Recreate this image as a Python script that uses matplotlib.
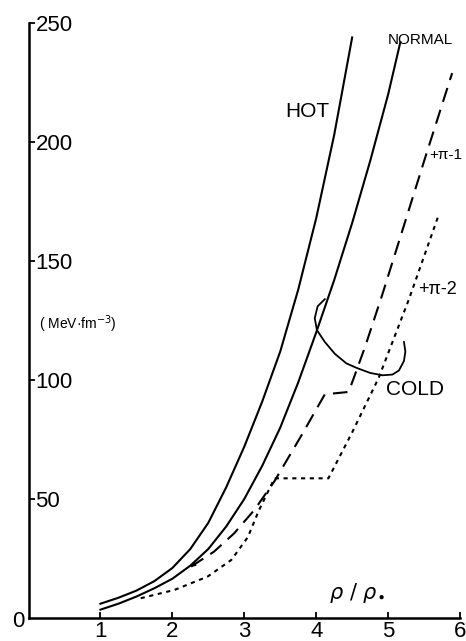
import matplotlib
matplotlib.use('Agg')
from matplotlib import pyplot as plt

plt.rcParams['font.family'] = ['Liberation Sans', 'DejaVu Sans']

# values (x = rho/rho0, y = MeV fm^-3)
hot_x = [1.0, 1.25, 1.5, 1.75, 2.0, 2.25, 2.5, 2.75, 3.0, 3.25, 3.5, 3.75, 4.0, 4.25, 4.5]
hot_y = [6, 8.5, 11.5, 15.5, 21, 29, 40, 55, 72, 91, 112, 138, 168, 203, 244]

normal_x = [1.0, 1.25, 1.5, 1.75, 2.0, 2.25, 2.5, 2.75, 3.0, 3.25, 3.5, 3.75, 4.0, 4.25, 4.5, 4.75, 5.0, 5.17]
normal_y = [3.5, 6, 9, 12.5, 16.5, 22, 29, 38.5, 50, 64, 80, 99, 120, 142, 166, 192, 220, 242]

pi1_x = [2.26, 2.58, 2.86, 3.14, 3.42, 3.8, 4.12, 4.45, 4.5, 4.68, 4.92, 5.2, 5.5, 5.89]
pi1_y = [21.6, 27.9, 35.6, 45.4, 57.5, 77, 94, 95, 99, 114, 136, 163, 192, 229]

pi2_x = [1.56, 2.03, 2.49, 2.82, 3.05, 3.2, 3.42, 4.17, 4.5, 4.87, 5.29, 5.71]
pi2_y = [8.3, 11.8, 17.4, 24.4, 34, 45, 58.7, 58.7, 78, 101, 134, 170]

cold_x = [4.12, 4.02, 3.98, 4.01, 4.12, 4.26, 4.42, 4.57, 4.75, 4.92, 5.06, 5.15, 5.22, 5.24, 5.22]
cold_y = [134, 131, 126, 121, 116, 111, 107, 105, 103, 102, 102.3, 104, 108, 112, 116]

xticks = [1, 2, 3, 4, 5, 6]
yticks = [50, 100, 150, 200, 250]

fig = plt.figure(figsize=(4.66, 6.41), dpi=100)
ax = fig.add_axes([0.0612, 0.0359, 0.926, 0.928])

lw = 1.5
ax.plot(hot_x, hot_y, color='black', lw=lw)
ax.plot(normal_x, normal_y, color='black', lw=lw)
ax.plot(pi1_x, pi1_y, color='black', lw=lw, dashes=(7, 4))
ax.plot(pi2_x, pi2_y, color='black', lw=lw, dashes=(2, 2.2))
ax.plot(cold_x, cold_y, color='black', lw=1.3)

# small arrowhead where pi-1 leaves the normal curve
ax.annotate('', xy=(pi1_x[0], pi1_y[0]), xytext=(pi1_x[1], pi1_y[1]),
            arrowprops=dict(arrowstyle='-|>', color='black', lw=0.01,
                            mutation_scale=9, shrinkA=12, shrinkB=0))

ax.set_xlim(0, 6)
ax.set_ylim(0, 250)
for s in ['top', 'right']:
    ax.spines[s].set_visible(False)
for s in ['left', 'bottom']:
    ax.spines[s].set_linewidth(1.8)

ax.set_xticks(xticks)
ax.set_xticklabels([str(v) for v in xticks])
ax.set_yticks(yticks)
ax.set_yticklabels([str(v) for v in yticks])
ax.tick_params(axis='x', direction='in', length=4, width=1.3, labelsize=16, pad=2)
ax.tick_params(axis='y', direction='in', length=4, width=1.3, labelsize=16, pad=-5)
for lab in ax.get_yticklabels():
    lab.set_horizontalalignment('left')

ax.text(-0.05, -1.5, '0', ha='right', va='center', fontsize=16, clip_on=False)

ax.text(3.87, 213, 'HOT', fontsize=15, ha='center', va='center')
ax.text(5.45, 243, 'NORMAL', fontsize=11, ha='center', va='center')
ax.text(5.57, 194.5, '+π-1', fontsize=11, ha='left', va='center')
ax.text(5.42, 138, '+π-2', fontsize=13, ha='left', va='center')
ax.text(5.38, 96, 'COLD', fontsize=15, ha='center', va='center')
ax.text(0.69, 123.5, '( MeV·fm$^{-3}$)', fontsize=10, ha='center', va='center')
ax.text(4.57, 10.5, r'$\rho\ /\ \rho_{\bullet}$', fontsize=15, ha='center', va='center')

fig.savefig('out.png', dpi=100)
